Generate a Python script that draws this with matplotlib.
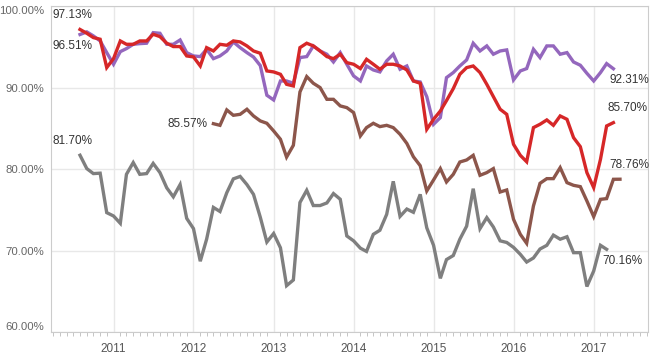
import matplotlib
matplotlib.use("Agg")
import matplotlib.pyplot as plt
import matplotlib.dates as mdates
from matplotlib.ticker import FuncFormatter
import pandas as pd

plt.rcParams['font.family'] = ['Liberation Sans', 'DejaVu Sans']

# monthly values, Aug 2010 onwards
start = '2010-08-01'

purple = [96.51, 96.83, 96.34, 95.72, 94.29, 92.86, 94.41, 94.78, 95.31, 95.39,
          95.44, 96.74, 96.66, 95.31, 95.31, 95.84, 94.29, 93.88, 93.80, 94.70,
          93.55, 93.88, 94.49, 95.60, 94.90, 94.29, 93.75, 92.70, 89.06, 88.48,
          90.81, 90.81, 90.53, 93.68, 93.80, 95.11, 94.49, 94.09, 93.14, 94.29,
          92.86, 91.43, 90.81, 92.65, 92.16, 91.92, 93.27, 94.09, 92.25, 92.65,
          90.81, 90.69, 88.89, 85.50, 86.32, 91.22, 91.84, 92.65, 93.39, 95.44,
          94.49, 95.11, 94.09, 94.49, 94.62, 90.94, 92.04, 92.33, 94.70, 93.68,
          95.11, 95.11, 94.09, 94.29, 93.14, 92.74, 91.75, 90.81, 91.84, 92.94,
          92.31]

red = [97.13, 96.66, 96.13, 95.93, 92.45, 93.55, 95.72, 95.31, 95.31, 95.72,
       95.72, 96.54, 96.25, 95.44, 95.03, 95.03, 93.88, 93.76, 92.65, 94.90,
       94.49, 95.31, 95.19, 95.72, 95.60, 95.11, 94.49, 94.21, 92.04, 91.92,
       91.63, 90.40, 90.20, 94.90, 95.44, 95.11, 94.49, 93.80, 93.55, 94.09,
       93.06, 92.86, 92.33, 93.47, 92.86, 92.25, 92.86, 92.86, 92.65, 92.16,
       90.81, 90.53, 84.88, 86.11, 87.13, 88.40, 89.87, 91.63, 92.45, 92.65,
       91.84, 90.40, 88.89, 87.34, 86.72, 83.04, 81.69, 80.90, 85.09, 85.50,
       86.03, 85.37, 86.52, 86.11, 83.86, 82.75, 79.57, 77.73, 81.20, 85.29,
       85.70]

# brown starts Apr 2012
brown_start = '2012-04-01'
brown = [85.57, 85.37, 87.26, 86.60, 86.72, 87.34, 86.52, 85.91, 85.62, 84.68,
         83.66, 81.47, 82.92, 89.46, 91.35, 90.53, 90.00, 88.56, 88.56, 87.75,
         87.54, 86.93, 84.07, 85.09, 85.62, 85.21, 85.37, 85.09, 84.27, 83.15,
         81.51, 80.42, 77.32, 78.67, 80.06, 78.42, 79.36, 80.87, 81.12, 81.69,
         79.24, 79.57, 80.06, 77.19, 77.44, 73.84, 72.00, 70.90, 75.48, 78.26,
         78.83, 78.83, 80.18, 78.34, 78.01, 77.85, 76.09, 74.17, 76.29, 76.38,
         78.75, 78.76]

gray = [81.70, 80.06, 79.45, 79.50, 74.66, 74.25, 73.35, 79.36, 80.80, 79.36,
        79.45, 80.70, 79.57, 77.70, 76.60, 78.10, 73.96, 72.70, 68.70, 71.40,
        75.30, 74.80, 77.10, 78.80, 79.10, 78.10, 76.90, 74.10, 71.05, 72.10,
        70.35, 65.70, 66.40, 75.90, 77.40, 75.53, 75.53, 75.85, 77.00, 76.30,
        71.80, 71.20, 70.30, 69.90, 72.00, 72.50, 74.45, 78.50, 74.20, 75.10,
        74.70, 76.90, 72.80, 70.65, 66.60, 68.90, 69.40, 71.40, 73.00, 77.60,
        72.70, 74.05, 72.90, 71.20, 71.00, 70.40, 69.55, 68.60, 69.10, 70.20,
        70.65, 71.90, 71.40, 71.70, 69.75, 69.75, 65.60, 67.50, 70.65, 70.16]

# (values, first month, colour, end label offset)
series = [
    (purple, start, '#9467bd', (-3, -4)),
    (red, start, '#d62728', (-4, 6)),
    (brown, brown_start, '#8c564b', (-8, 6)),
    (gray, start, '#7f7f7f', (-3, -4)),
]

txt = dict(fontsize=8.5, color='#333333', textcoords='offset points')

fig = plt.figure(figsize=(6.55, 3.56), dpi=100)
ax = fig.add_axes([0.078, 0.067, 0.911, 0.916])

for vals, s, col, off in series:
    d = pd.date_range(s, periods=len(vals), freq='MS')
    ax.plot(d, vals, color=col, lw=2.4, solid_joinstyle='miter')
    ax.annotate('%.2f%%' % vals[-1], (d[-1], vals[-1]), xytext=off,
                ha='left', va='bottom' if off[1] > 0 else 'top', **txt)

dp = pd.Timestamp(start)
db = pd.Timestamp(brown_start)
ax.annotate('%.2f%%' % red[0], (dp, red[0]), xytext=(-20, 6),
            ha='left', va='bottom', **txt)
ax.annotate('%.2f%%' % purple[0], (dp, purple[0]), xytext=(-20, -4),
            ha='left', va='top', **txt)
ax.annotate('%.2f%%' % gray[0], (dp, gray[0]), xytext=(-20, 6),
            ha='left', va='bottom', **txt)
ax.annotate('%.2f%%' % brown[0], (db, brown[0]), xytext=(-4, 0),
            ha='right', va='center', **txt)

ax.set_ylim(60, 100)
ax.set_yticks([60, 70, 80, 90, 100])
ax.yaxis.set_major_formatter(FuncFormatter(lambda v, p: '%.2f%%' % v))
ax.set_xlim(pd.Timestamp('2010-03-22'), pd.Timestamp('2017-09-05'))
ax.xaxis.set_major_locator(mdates.YearLocator())
ax.xaxis.set_major_formatter(mdates.DateFormatter('%Y'))
ax.xaxis.set_minor_locator(mdates.MonthLocator())

ax.grid(True, color='#e8e8e8', lw=1)
ax.set_axisbelow(True)
for sp in ax.spines.values():
    sp.set_color('#cccccc')
ax.tick_params(axis='y', length=0, labelsize=8.2, labelcolor='#666666', pad=5)
ax.tick_params(axis='x', which='major', length=0, labelsize=8.5, labelcolor='#555555', pad=8)
ax.tick_params(axis='x', which='minor', length=3, color='#bbbbbb')

# keep the end labels of the y axis inside the figure
fig.canvas.draw()
ylabels = ax.get_yticklabels()
ylabels[0].set_verticalalignment('bottom')
ylabels[-1].set_verticalalignment('top')

fig.savefig('out.png', dpi=100)
